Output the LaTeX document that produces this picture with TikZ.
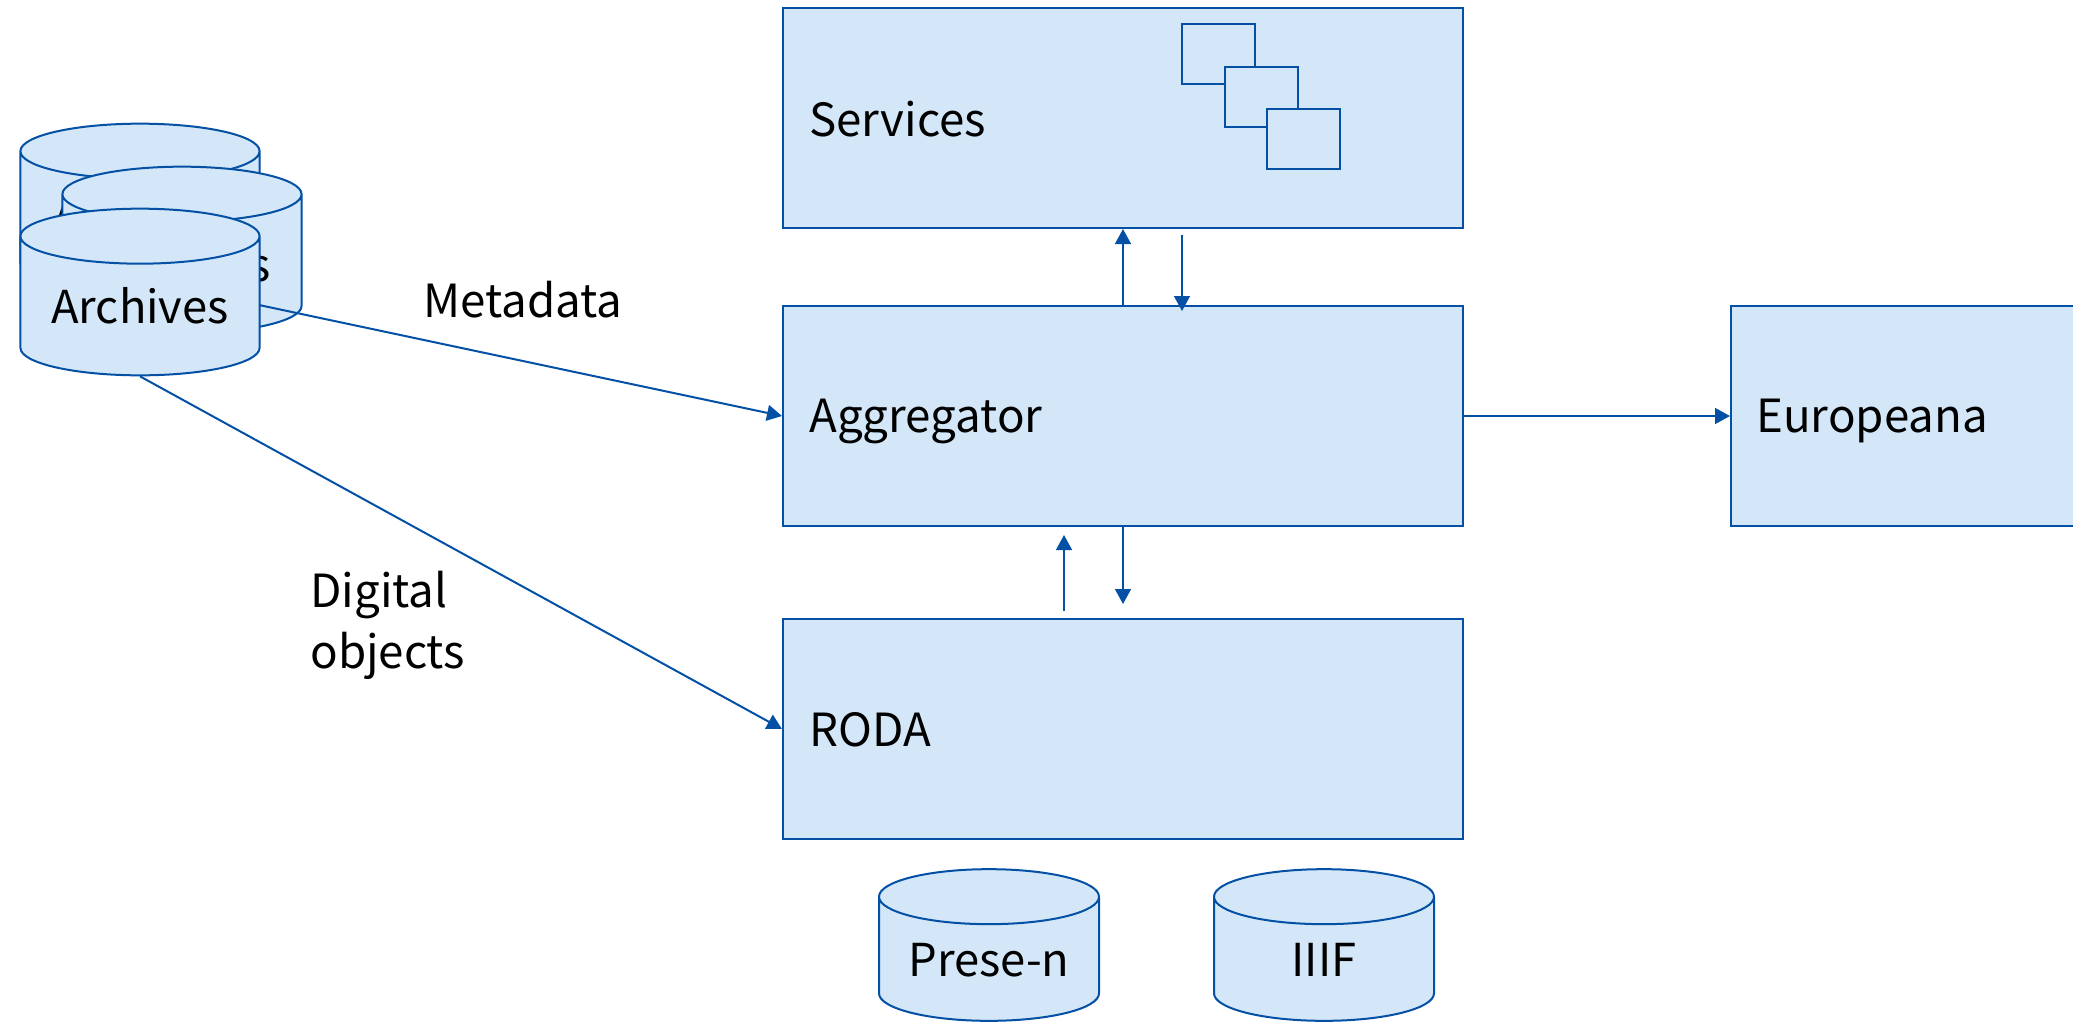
\documentclass[tikz,border=0pt]{standalone}
\usepackage{fontspec}
\setmainfont{Noto Sans CJK SC}
\usetikzlibrary{shapes.geometric,arrows.meta,calc}
\definecolor{linkblue}{HTML}{0350A5}
\definecolor{boxfill}{HTML}{D3E7F8}
\tikzset{
    panel/.style={draw=linkblue, fill=boxfill, line width=1.2pt, minimum width=408pt, minimum height=132pt, inner sep=0pt},
    tag/.style={font=\fontsize{27.4}{34}\selectfont, inner sep=0pt},
    drum/.style={cylinder, shape border rotate=90, anchor=shape center, draw=linkblue, line width=1.2pt, cylinder uses custom fill, cylinder body fill=boxfill, cylinder end fill=boxfill, inner sep=0pt, text width=110pt, align=center, text height=21pt, text depth=0pt, font=\fontsize{27.2}{34}\selectfont},
    link/.style={draw=linkblue, line width=1.2pt, -{Triangle[length=9pt,width=9.5pt]}}
}
\begin{document}
\begin{tikzpicture}[x=0.6pt,y=-0.6pt]
    \clip (0,0) rectangle (2073,1021);
    % boxes
    \node[panel] (services) at (1123,118) {};
    \node[panel] (aggregator) at (1123,416) {};
    \node[panel] (roda) at (1123,729) {};
    \node[panel, anchor=west] (europeana) at (1730,416) {};
    \node[tag, anchor=west] (servicestag) at (809,119) {Services};
    \node[tag, anchor=west] (aggregatortag) at (809,421) {Aggregator};
    \node[tag, anchor=west] (rodatag) at (809,730) {RODA};
    \node[tag, anchor=west] (europeanatag) at (1756,421) {Europeana};
    % small windows in the services box
    \foreach \n/\x/\y in {a/1218/54, b/1261/97, c/1303.5/139} {
        \node[draw=linkblue, fill=boxfill, line width=1.2pt, minimum width=43.8pt, minimum height=36pt, inner sep=0pt] (window\n) at (\x,\y) {};
    }
    % stores
    \foreach \n/\x/\y in {one/140/207, two/182/250, three/140/292} {
        \node[drum, aspect=0.3, minimum width=143.5pt, minimum height=100pt] (archive\n) at (\x,\y) {Archives};
    }
    \node[drum, aspect=0.3, minimum width=132pt, minimum height=91pt] (presen) at (989,945) {Prese-n\hspace*{4pt}};
    \node[drum, aspect=0.3, minimum width=132pt, minimum height=91pt] (iiif) at (1324,945) {IIIF};
    % free ends
    \coordinate (metastart) at (259,305);
    % connectors
    \draw[link] (metastart) -- (aggregator.west);
    \draw[link] (archivethree.south) -- (roda.west);
    \draw[link] (aggregator.east) -- (europeana.west);
    \draw[link] (aggregator.north) -- (services.south);
    \draw[link] ($(services.south)+(59,6)$) -- ($(aggregator.north)+(59,6)$);
    \draw[link] ($(roda.north)+(-59,-7)$) -- ($(aggregator.south)+(-59,8)$);
    \draw[link] (aggregator.south) -- ($(roda.north)+(0,-14)$);
    % labels
    \node[tag, anchor=center] (metadata) at (523,300) {Metadata};
    \node[tag, anchor=west, align=left, font=\fontsize{27.4}{36.6}\selectfont] (digital) at (310,625) {Digital\\objects};
\end{tikzpicture}
\end{document}
